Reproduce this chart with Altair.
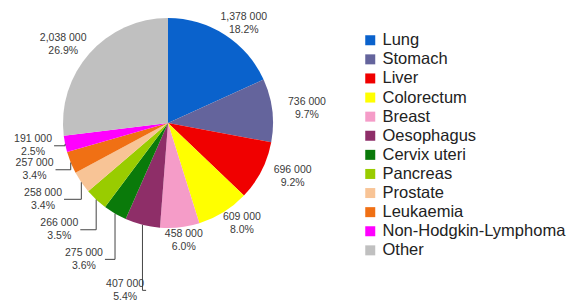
import altair as alt
import pandas as pd

categories = ["Lung", "Stomach", "Liver", "Colorectum", "Breast", "Oesophagus",
              "Cervix uteri", "Pancreas", "Prostate", "Leukaemia",
              "Non-Hodgkin-Lymphoma", "Other"]
values = [1378000, 736000, 696000, 609000, 458000, 407000,
          275000, 266000, 258000, 257000, 191000, 2038000]
percents = [18.2, 9.7, 9.2, 8.0, 6.0, 5.4, 3.6, 3.5, 3.4, 3.4, 2.5, 26.9]
colors = ["#0a62cc", "#64649c", "#f00000", "#ffff00", "#f59cc8", "#8e2e68",
          "#0a7a0a", "#99cc00", "#f8c496", "#f07014", "#ff00ff", "#c0c0c0"]


def fmt(v):
    k = v // 1000
    if k >= 1000:
        return f"{k // 1000},{k % 1000:03d} 000"
    return f"{k} 000"


df = pd.DataFrame({
    "idx": list(range(len(categories))),
    "category": categories,
    "value": values,
    "label": [f"{fmt(v)}\n{p:.1f}%" for v, p in zip(values, percents)],
})

CX, CY, R = 160, 115, 105
FONT = "Liberation Sans"

base = alt.Chart(df).transform_joinaggregate(
    total="sum(value)"
).transform_window(
    cum="sum(value)", sort=[alt.SortField("idx")], frame=[None, 0]
).transform_calculate(
    mid="(datum.cum - datum.value/2) / datum.total * 2 * PI"
).transform_calculate(
    deg="datum.mid * 180 / PI"
).transform_calculate(
    small="datum.deg >= 180 && datum.deg <= 270",
).transform_calculate(
    lrx="datum.small ? 138 + (258 - datum.deg) * 0.6 : 140",
    lry="datum.small ? 115 + (258 - datum.deg) * 0.9 : 118",
).transform_calculate(
    xA=f"{CX} + {R} * sin(datum.mid)",
    yA=f"{CY} - {R} * cos(datum.mid)",
    xL=f"{CX} + datum.lrx * sin(datum.mid)",
    yL=f"{CY} - datum.lry * cos(datum.mid)",
).transform_calculate(
    xE="datum.xL + 21",
    yT="datum.yL - 6.5",
)

pie = base.mark_arc(outerRadius=R, stroke=None).encode(
    theta=alt.Theta("value:Q", stack=True),
    order=alt.Order("idx:Q"),
    color=alt.Color(
        "category:N",
        scale=alt.Scale(domain=categories, range=colors),
        sort=categories,
        legend=alt.Legend(
            title=None, orient="none", legendX=354, legendY=24,
            symbolType="square", symbolSize=100, symbolStrokeWidth=0,
            labelFontSize=16.5, labelFont=FONT, labelColor="#222222",
            labelOffset=4, rowPadding=2.1, labelLimit=300, padding=0,
        ),
    ),
)

labels = base.mark_text(
    fontSize=10.5, font=FONT, color="#3a3a3a", lineBreak="\n",
    align="center", baseline="middle", lineHeight=13,
).encode(
    x=alt.X("xL:Q", scale=None),
    y=alt.Y("yT:Q", scale=None),
    text="label:N",
)

vline = base.transform_filter("datum.small").mark_rule(
    color="#444444", strokeWidth=1
).encode(
    x=alt.X("xA:Q", scale=None),
    y=alt.Y("yA:Q", scale=None),
    y2="yL:Q",
)

hline = base.transform_filter("datum.small").mark_rule(
    color="#444444", strokeWidth=1
).encode(
    x=alt.X("xA:Q", scale=None),
    x2="xE:Q",
    y=alt.Y("yL:Q", scale=None),
)

chart = alt.layer(pie, vline, hline, labels).properties(
    width=2 * CX, height=2 * CY,
    autosize=alt.AutoSizeParams(type="none"),
    padding={"left": 0, "top": 0, "right": 560 - 2 * CX, "bottom": 292 - 2 * CY},
).configure_view(stroke=None)

chart.save("out.html", embed_options={"renderer": "svg", "actions": False})
